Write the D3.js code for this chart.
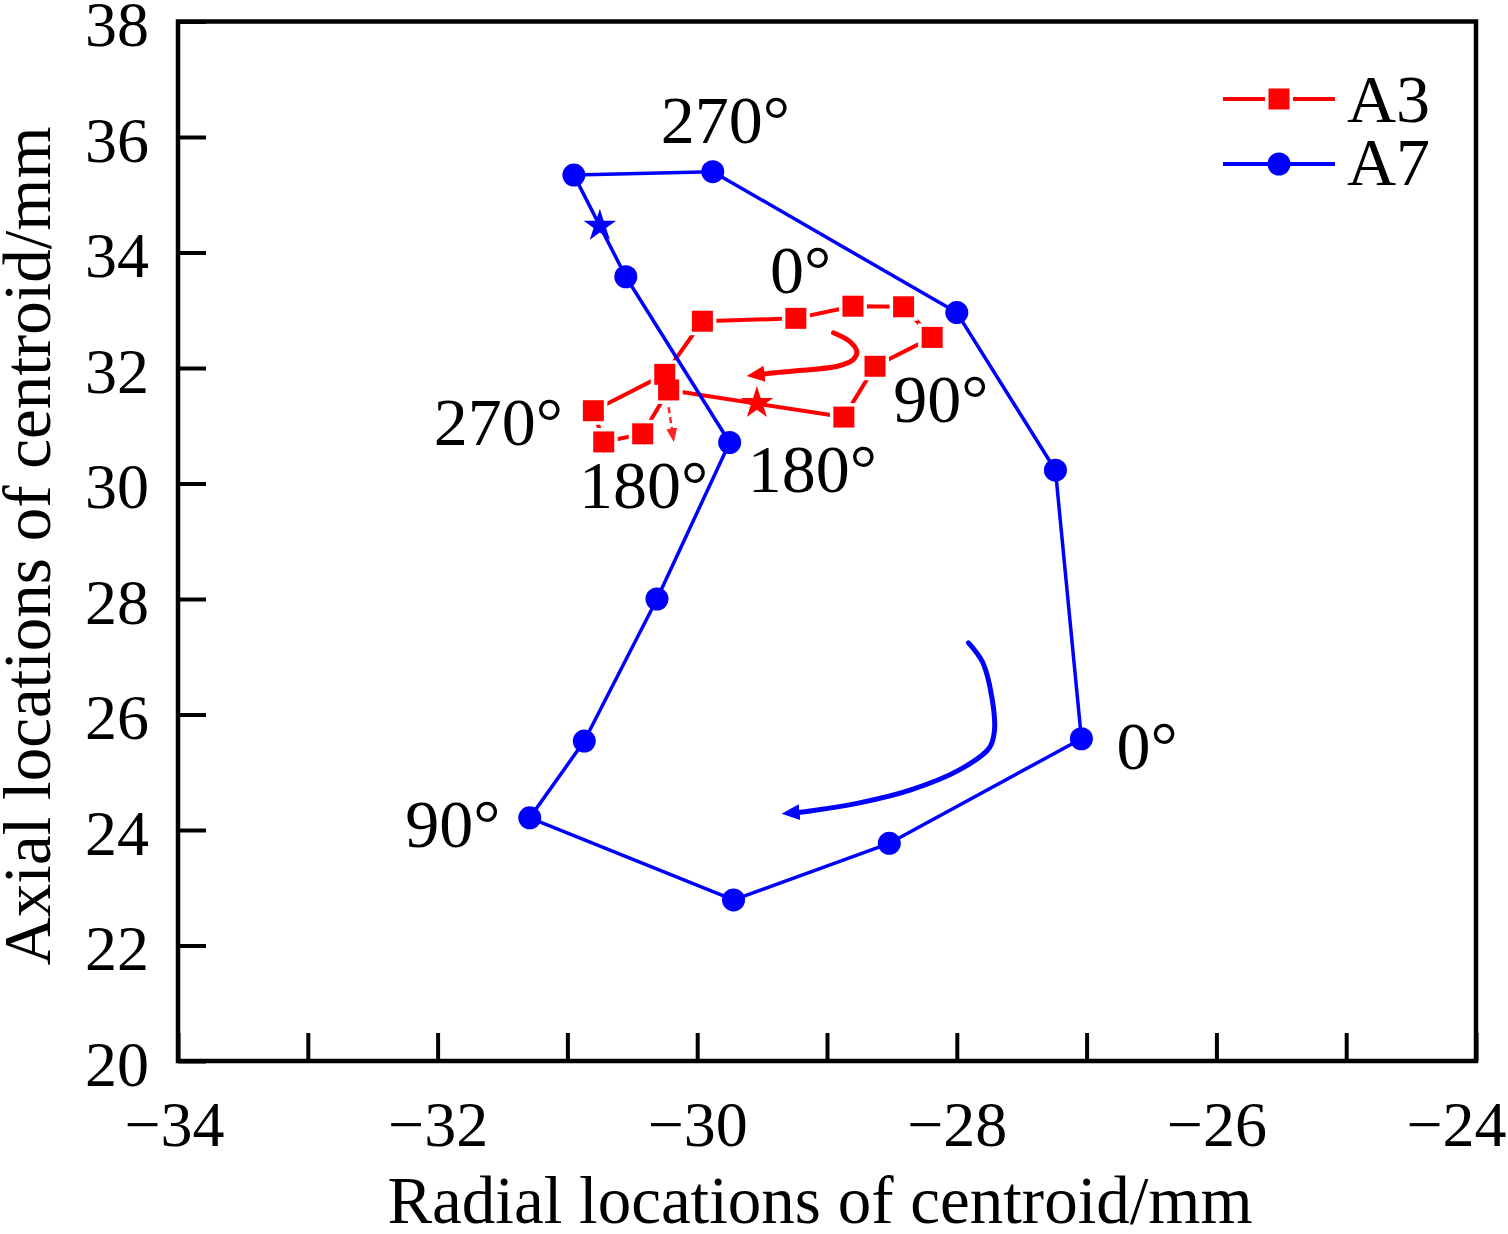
<!DOCTYPE html>
<html>
<head>
<meta charset="utf-8">
<script src="https://cdn.jsdelivr.net/npm/d3@7"></script>
<style>
  html, body { margin: 0; padding: 0; background: #fff; }
  svg { display: block; }
  text { font-family: "Liberation Serif", "Times New Roman", serif; fill: #000; }
</style>
</head>
<body>
<svg id="chart" width="1508" height="1234"></svg>
<script>
// centroid tracks, radial / axial position in mm (closed loops)
const a3Radial = [-29.96, -29.24, -28.80, -28.41, -28.19, -28.63, -28.87, -30.22, -30.42, -30.72, -30.80, -30.25];
const a3Axial  = [32.81, 32.86, 33.07, 33.06, 32.53, 32.03, 31.15, 31.62, 30.86, 30.72, 31.26, 31.89];
const a7Radial = [-30.95, -29.88, -28.00, -27.24, -27.04, -28.52, -29.72, -31.29, -30.87, -30.31, -29.75, -30.55];
const a7Axial  = [35.34, 35.40, 32.96, 30.23, 25.58, 23.77, 22.79, 24.21, 25.54, 28.00, 30.71, 33.58];

// start points (stars)
const a3Start = [-29.54, 31.39];
const a7Start = [-30.75, 34.46];

// rotation direction arrows
const a3ArrowRadial = [-28.95, -28.82, -28.77, -28.80, -28.92, -29.19, -29.44, -29.52];
const a3ArrowAxial  = [32.61, 32.45, 32.28, 32.14, 32.03, 31.96, 31.91, 31.89];
const a7ArrowRadial = [-27.91, -27.80, -27.73, -27.71, -27.75, -27.98, -28.36, -28.75, -29.13, -29.25];
const a7ArrowAxial  = [27.24, 26.90, 26.30, 25.72, 25.42, 25.04, 24.69, 24.47, 24.33, 24.30];
const a3DropRadial = [-30.22, -30.19];
const a3DropAxial  = [31.32, 30.87];

// angle labels
const angleText   = ['270°', '0°', '90°', '270°', '180°', '180°', '0°', '90°'];
const angleRadial = [-30.28, -29.44, -28.49, -32.03, -30.91, -29.61, -26.77, -32.25];
const angleAxial  = [35.90, 33.30, 31.07, 30.67, 29.58, 29.86, 25.06, 23.71];

const xTicks = d3.range(-34, -23, 1);
const yTicks = d3.range(20, 39, 2);

const RED = '#ff0000';
const BLUE = '#0000ff';

const svg = d3.select('#chart');
const x = d3.scaleLinear().domain([-34, -24]).range([178, 1476]);
const y = d3.scaleLinear().domain([20, 38]).range([1061, 21.5]);

// arrow heads
const defs = svg.append('defs');
function arrowHead(id, color, len, wid) {
    defs.append('marker')
        .attr('id', id)
        .attr('markerUnits', 'userSpaceOnUse')
        .attr('viewBox', `0 0 ${len} ${wid}`)
        .attr('markerWidth', len)
        .attr('markerHeight', wid)
        .attr('refX', 5)
        .attr('refY', wid / 2)
        .attr('orient', 'auto')
        .append('path')
        .attr('d', `M0,0 L${len},${wid / 2} L0,${wid} Z`)
        .attr('fill', color);
}
arrowHead('headBlue', BLUE, 18, 16);
arrowHead('headRed', RED, 18, 16);
arrowHead('headDrop', RED, 14, 11);

// axes
const fmt = d3.format('d');
const gx = svg.append('g')
    .attr('transform', `translate(0,${y(20)})`)
    .call(d3.axisBottom(x)
        .tickValues(xTicks)
        .tickSizeInner(-28)
        .tickSizeOuter(0)
        .tickPadding(40)
        .tickFormat(d => d % 2 === 0 ? fmt(d) : ''));

const gy = svg.append('g')
    .attr('transform', `translate(${x(-34)},0)`)
    .call(d3.axisLeft(y)
        .tickValues(yTicks)
        .tickSizeInner(-28)
        .tickSizeOuter(0)
        .tickPadding(29)
        .tickFormat(fmt));

[gx, gy].forEach(g => {
    g.select('.domain').remove();
    g.selectAll('.tick line').attr('stroke', '#000').attr('stroke-width', 4);
    g.selectAll('.tick text')
        .attr('font-family', '"Liberation Serif", "Times New Roman", serif')
        .attr('font-size', 64)
        .attr('fill', '#000');
});
gy.selectAll('.tick text').attr('dy', '0.38em');
// keep the end labels inside the picture, as in the original
gx.selectAll('.tick text').filter(d => d === -24).attr('dx', -20);
gx.selectAll('.tick text').filter(d => d === -34).attr('dx', -4);

// frame
svg.append('rect')
    .attr('x', x(-34))
    .attr('y', y(38))
    .attr('width', x(-24) - x(-34))
    .attr('height', y(20) - y(38))
    .attr('fill', 'none')
    .attr('stroke', '#000')
    .attr('stroke-width', 4.5);

// axis titles
svg.append('text')
    .attr('x', 820)
    .attr('y', 1223)
    .attr('text-anchor', 'middle')
    .attr('font-size', 67)
    .text('Radial locations of centroid/mm');

svg.append('text')
    .attr('transform', 'translate(50,546) rotate(-90)')
    .attr('text-anchor', 'middle')
    .attr('font-size', 67)
    .text('Axial locations of centroid/mm');

const plot = svg.append('g');
const closedLine = d3.line().x(d => x(d[0])).y(d => y(d[1])).curve(d3.curveLinearClosed);
const openLine = d3.line().x(d => x(d[0])).y(d => y(d[1]));
const smoothLine = d3.line().x(d => x(d[0])).y(d => y(d[1])).curve(d3.curveCatmullRom.alpha(0.5));

const a3 = a3Radial.map((r, i) => [r, a3Axial[i]]);
const a7 = a7Radial.map((r, i) => [r, a7Axial[i]]);

// A3 track
plot.append('path')
    .datum(a3)
    .attr('d', closedLine)
    .attr('fill', 'none')
    .attr('stroke', RED)
    .attr('stroke-width', 4)
    .attr('stroke-linejoin', 'round');

// white halo around square markers (gaps in the line)
plot.selectAll('.a3-halo')
    .data(a3)
    .enter()
    .append('rect')
    .attr('class', 'a3-halo')
    .attr('x', d => x(d[0]) - 14)
    .attr('y', d => y(d[1]) - 14)
    .attr('width', 28)
    .attr('height', 28)
    .attr('fill', '#fff');

plot.selectAll('.a3-point')
    .data(a3)
    .enter()
    .append('rect')
    .attr('class', 'a3-point')
    .attr('x', d => x(d[0]) - 10.5)
    .attr('y', d => y(d[1]) - 10.5)
    .attr('width', 21)
    .attr('height', 21)
    .attr('fill', RED);

const star = d3.symbol().type(d3.symbolStar).size(330);
plot.append('path')
    .attr('d', star)
    .attr('transform', `translate(${x(a3Start[0])},${y(a3Start[1])})`)
    .attr('fill', RED);

plot.append('path')
    .datum(a3ArrowRadial.map((r, i) => [r, a3ArrowAxial[i]]))
    .attr('d', smoothLine)
    .attr('fill', 'none')
    .attr('stroke', RED)
    .attr('stroke-width', 5)
    .attr('stroke-linecap', 'round')
    .attr('marker-end', 'url(#headRed)');

plot.append('path')
    .datum(a3DropRadial.map((r, i) => [r, a3DropAxial[i]]))
    .attr('d', openLine)
    .attr('fill', 'none')
    .attr('stroke', RED)
    .attr('stroke-width', 2.5)
    .attr('stroke-dasharray', '6,4')
    .attr('opacity', 0.85)
    .attr('marker-end', 'url(#headDrop)');

// A7 track
plot.append('path')
    .datum(a7)
    .attr('d', closedLine)
    .attr('fill', 'none')
    .attr('stroke', BLUE)
    .attr('stroke-width', 3.5)
    .attr('stroke-linejoin', 'round');

plot.selectAll('.a7-point')
    .data(a7)
    .enter()
    .append('circle')
    .attr('class', 'a7-point')
    .attr('cx', d => x(d[0]))
    .attr('cy', d => y(d[1]))
    .attr('r', 11.5)
    .attr('fill', BLUE);

plot.append('path')
    .attr('d', star)
    .attr('transform', `translate(${x(a7Start[0])},${y(a7Start[1])})`)
    .attr('fill', BLUE);

plot.append('path')
    .datum(a7ArrowRadial.map((r, i) => [r, a7ArrowAxial[i]]))
    .attr('d', smoothLine)
    .attr('fill', 'none')
    .attr('stroke', BLUE)
    .attr('stroke-width', 5)
    .attr('stroke-linecap', 'round')
    .attr('marker-end', 'url(#headBlue)');

// angle labels
plot.selectAll('.angle')
    .data(angleText)
    .enter()
    .append('text')
    .attr('class', 'angle')
    .attr('x', (d, i) => x(angleRadial[i]))
    .attr('y', (d, i) => y(angleAxial[i]))
    .attr('font-size', 68)
    .text(d => d);

// legend
const legend = svg.append('g').attr('transform', 'translate(1223,0)');
const legendItems = [
    { name: 'A3', color: RED, shape: 'square', cy: 99, base: 122 },
    { name: 'A7', color: BLUE, shape: 'circle', cy: 164, base: 185 }
];
legendItems.forEach(item => {
    legend.append('line')
        .attr('x1', 0).attr('x2', 112)
        .attr('y1', item.cy).attr('y2', item.cy)
        .attr('stroke', item.color)
        .attr('stroke-width', 4);
    if (item.shape === 'square') {
        legend.append('rect')
            .attr('x', 56 - 14).attr('y', item.cy - 14)
            .attr('width', 28).attr('height', 28)
            .attr('fill', '#fff');
        legend.append('rect')
            .attr('x', 56 - 10.5).attr('y', item.cy - 10.5)
            .attr('width', 21).attr('height', 21)
            .attr('fill', item.color);
    } else {
        legend.append('circle')
            .attr('cx', 56).attr('cy', item.cy)
            .attr('r', 11.5)
            .attr('fill', item.color);
    }
    legend.append('text')
        .attr('x', 124)
        .attr('y', item.base)
        .attr('font-size', 68)
        .text(item.name);
});
</script>
</body>
</html>
